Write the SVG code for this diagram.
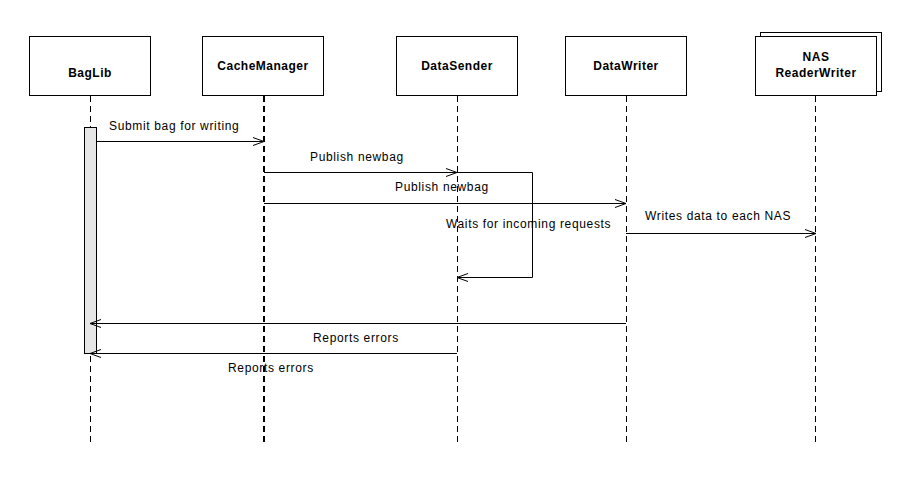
<svg xmlns="http://www.w3.org/2000/svg" width="920" height="501" viewBox="0 0 920 501">
<defs>
<marker id="open" markerWidth="12" markerHeight="10" refX="11" refY="5" orient="auto" markerUnits="userSpaceOnUse">
<path d="M0,1 L11,5 L0,9" fill="none" stroke="#000" stroke-width="1"/>
</marker>
</defs>
<style>
.box{fill:#fff;stroke:#000;stroke-width:1}
.life{stroke:#000;stroke-width:1;stroke-dasharray:6,4;fill:none}
.name{font-family:"Liberation Sans",Arial,sans-serif;font-size:12px;font-weight:bold;text-anchor:middle;letter-spacing:0.5px}
.lbl{font-family:"Liberation Sans",Arial,sans-serif;font-size:12px;letter-spacing:0.65px}
.msg{stroke:#000;stroke-width:1;fill:none}
</style>
<rect width="920" height="501" fill="#fff"/>
<g id="BagLib">
<rect class="box" x="29.5" y="36.5" width="121" height="59"/>
<line class="life" x1="90.5" y1="96" x2="90.5" y2="442"/>
<rect x="84.5" y="127.5" width="12" height="226" fill="#e6e6e6" stroke="#000"/>
<text class="name" x="90" y="77">BagLib</text>
</g>
<g id="CacheManager">
<rect class="box" x="202.5" y="36.5" width="121" height="59"/>
<line class="life" x1="264" y1="96" x2="264" y2="442" style="stroke-width:2"/>
<text class="name" x="263" y="70">CacheManager</text>
</g>
<g id="DataSender">
<rect class="box" x="396.5" y="36.5" width="121" height="59"/>
<line class="life" x1="457.5" y1="96" x2="457.5" y2="442"/>
<text class="name" x="457" y="70">DataSender</text>
</g>
<g id="DataWriter">
<rect class="box" x="565.5" y="36.5" width="121" height="59"/>
<line class="life" x1="626.5" y1="96" x2="626.5" y2="442"/>
<text class="name" x="626" y="70">DataWriter</text>
</g>
<g id="NASReaderWriter">
<rect class="box" x="760.5" y="32.5" width="121" height="59"/>
<rect class="box" x="755.5" y="36.5" width="121" height="59"/>
<line class="life" x1="815.5" y1="96" x2="815.5" y2="442"/>
<text class="name" x="816" y="61">NAS</text>
<text class="name" x="816" y="77">ReaderWriter</text>
</g>
<g id="connectors">
<line class="msg" x1="96" y1="141.5" x2="264" y2="141.5" marker-end="url(#open)"/>
<text class="lbl" x="109" y="130">Submit bag for writing</text>
<line class="msg" x1="264" y1="172.5" x2="457" y2="172.5" marker-end="url(#open)"/>
<text class="lbl" x="310" y="161">Publish newbag</text>
<polyline class="msg" points="457,172.5 532.5,172.5 532.5,277.5 457,277.5" marker-end="url(#open)"/>
<line class="msg" x1="264" y1="203.5" x2="626" y2="203.5" marker-end="url(#open)"/>
<text class="lbl" x="395" y="191">Publish newbag</text>
<text class="lbl" x="446" y="228">Waits for incoming requests</text>
<line class="msg" x1="626" y1="233.5" x2="816" y2="233.5" marker-end="url(#open)"/>
<text class="lbl" x="645" y="220">Writes data to each NAS</text>
<line class="msg" x1="626" y1="323.5" x2="90" y2="323.5" marker-end="url(#open)"/>
<text class="lbl" x="313" y="342">Reports errors</text>
<line class="msg" x1="457" y1="353.5" x2="90" y2="353.5" marker-end="url(#open)"/>
<text class="lbl" x="228" y="372">Reports errors</text>
</g>
</svg>
